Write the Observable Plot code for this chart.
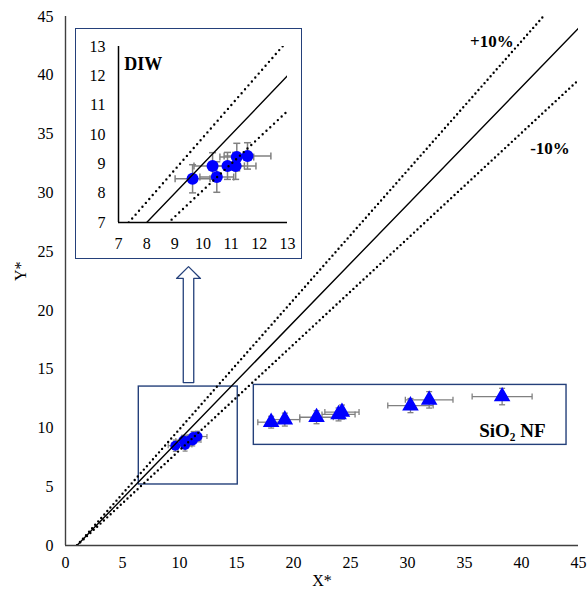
<!DOCTYPE html>
<html>
<head>
<meta charset="utf-8">
<script src="https://cdn.jsdelivr.net/npm/d3@7"></script>
<script src="https://cdn.jsdelivr.net/npm/@observablehq/plot@0.6"></script>
<style>
  body { margin: 0; background: #fff; }
  #wrap { position: relative; width: 587px; height: 599px; }
  #inset { position: absolute; left: 75px; top: 28px; }
</style>
</head>
<body>
<div id="wrap"><div id="main"></div><div id="inset"></div></div>
<script>
// ---- data ----
const xTicks = [0, 5, 10, 15, 20, 25, 30, 35, 40, 45];
const yTicks = [0, 5, 10, 15, 20, 25, 30, 35, 40, 45];
const insetTicks = [7, 8, 9, 10, 11, 12, 13];

// DIW (circles)
const diwX    = [9.63, 10.34, 10.49, 10.87, 11.16, 11.20, 11.58];
const diwY    = [8.49, 8.93, 8.55, 8.93, 8.93, 9.23, 9.27];
const diwXErr = [0.62, 0.66, 0.60, 0.60, 0.72, 0.60, 0.83];
const diwYErr = [0.48, 0.45, 0.52, 0.46, 0.46, 0.47, 0.45];

// SiO2 NF (triangles)
const nfX    = [18.04, 19.24, 22.02, 23.95, 24.25, 30.26, 31.90, 38.30];
const nfY    = [10.49, 10.71, 10.91, 11.15, 11.35, 11.90, 12.39, 12.67];
const nfXErr = [1.17, 1.31, 1.47, 1.45, 1.50, 1.99, 2.09, 2.63];
const nfYErr = [0.50, 0.55, 0.55, 0.55, 0.60, 0.60, 0.70, 0.70];

// reference lines: Y* = k (X* - 1)
const refOffset = 1;
const refFactors = [1, 1.1, 0.9];

// annotations (data units of main chart)
const zoomBox = {x1: 6.43, x2: 15.11, y1: 5.19, y2: 13.52};
const nfBox = {x1: 16.52, x2: 43.95, y1: 8.56, y2: 13.66};
const arrowSpec = {x: 10.79, y1: 13.86, y2: 23.72, shaft: 0.46, head: 1.05, headLen: 1.0};
const labels = [
  {x: 37.4, y: 42.9, text: "+10%", size: 17},
  {x: 42.5, y: 33.8, text: "-10%", size: 17},
  {x: 39.2, y: 9.75, text: "SiO₂ NF", size: 19}
];

const diw = diwX.map((x, i) => ({x, y: diwY[i], xe: diwXErr[i], ye: diwYErr[i]}));
const nf = nfX.map((x, i) => ({x, y: nfY[i], xe: nfXErr[i], ye: nfYErr[i]}));

const FONT = "'Liberation Serif', 'Times New Roman', Times, serif";
const BLUE = "#0000FF", GREY = "#808080", NAVY = "#24407A";

const vbar = {draw(ctx, size) { const h = Math.sqrt(size / Math.PI); ctx.moveTo(0, -h); ctx.lineTo(0, h); }};
const hbar = {draw(ctx, size) { const h = Math.sqrt(size / Math.PI); ctx.moveTo(-h, 0); ctx.lineTo(h, 0); }};

function errorBars(data, cap, sw) {
  const o = {stroke: GREY, strokeWidth: sw};
  return [
    Plot.link(data, {x1: d => d.x - d.xe, x2: d => d.x + d.xe, y1: "y", y2: "y", ...o}),
    Plot.link(data, {x1: "x", x2: "x", y1: d => d.y - d.ye, y2: d => d.y + d.ye, ...o}),
    Plot.dot(data, {x: d => d.x - d.xe, y: "y", symbol: vbar, r: cap, fill: "none", ...o}),
    Plot.dot(data, {x: d => d.x + d.xe, y: "y", symbol: vbar, r: cap, fill: "none", ...o}),
    Plot.dot(data, {x: "x", y: d => d.y - d.ye, symbol: hbar, r: cap, fill: "none", ...o}),
    Plot.dot(data, {x: "x", y: d => d.y + d.ye, symbol: hbar, r: cap, fill: "none", ...o})
  ];
}

function refLines(x0, x1, dash, sw) {
  return refFactors.map(k => Plot.line(
    [x0, x1].map(x => ({x, y: k * (x - refOffset)})),
    {x: "x", y: "y", stroke: "#000", strokeWidth: k === 1 ? 1.4 : sw,
     strokeDasharray: k === 1 ? null : dash, strokeLinecap: "round", clip: true}));
}

const a = arrowSpec;
const arrowPoly = [
  {x: a.x - a.shaft, y: a.y1}, {x: a.x + a.shaft, y: a.y1},
  {x: a.x + a.shaft, y: a.y2 - a.headLen}, {x: a.x + a.head, y: a.y2 - a.headLen},
  {x: a.x, y: a.y2}, {x: a.x - a.head, y: a.y2 - a.headLen},
  {x: a.x - a.shaft, y: a.y2 - a.headLen}, {x: a.x - a.shaft, y: a.y1}
];

const fmt = d => String(d);

const mainPlot = Plot.plot({
  width: 587, height: 599,
  marginLeft: 65, marginRight: 9, marginTop: 16, marginBottom: 54,
  x: {domain: [0, 45]},
  y: {domain: [0, 45]},
  style: {fontFamily: FONT, fontSize: "16px", color: "#000", background: "#fff"},
  marks: [
    Plot.axisX({ticks: xTicks, tickFormat: fmt, tickSize: 0, tickPadding: 11, label: null, fontSize: 16, fontFamily: FONT}),
    Plot.axisY({ticks: yTicks, tickFormat: fmt, tickSize: 0, tickPadding: 12, label: null, fontSize: 16, fontFamily: FONT}),
    Plot.ruleX([0], {stroke: "#404040", strokeWidth: 1.4}),
    Plot.ruleY([0], {stroke: "#404040", strokeWidth: 1.4}),
    Plot.rect([zoomBox], {x1: "x1", x2: "x2", y1: "y1", y2: "y2", fill: "none", stroke: NAVY, strokeWidth: 1.4}),
    Plot.rect([nfBox], {x1: "x1", x2: "x2", y1: "y1", y2: "y2", fill: "#fff", stroke: NAVY, strokeWidth: 1.4}),
    Plot.line(arrowPoly, {x: "x", y: "y", stroke: NAVY, strokeWidth: 1.3, fill: "#fff"}),
    ...errorBars(nf, 3, 1.3),
    ...errorBars(diw, 2.5, 1.2),
    Plot.dot(nf, {x: "x", y: "y", symbol: "triangle", r: 5.2, fill: BLUE, stroke: BLUE}),
    Plot.dot(diw, {x: "x", y: "y", r: 5, fill: BLUE}),
    ...refLines(refOffset, 45, "0,4.6", 2.4),
    ...labels.map(l => Plot.text([l], {x: "x", y: "y", text: "text", fontWeight: "bold", fontSize: l.size, fontFamily: FONT})),
    Plot.text(["X*"], {frameAnchor: "bottom", dy: 40, fontSize: 16, fontFamily: FONT}),
    Plot.text(["Y*"], {frameAnchor: "left", dx: -45, rotate: -90, fontSize: 16, fontFamily: FONT})
  ]
});
document.getElementById("main").appendChild(mainPlot);

const insetPlot = Plot.plot({
  width: 225, height: 229,
  marginLeft: 42, marginRight: 14, marginTop: 17, marginBottom: 36,
  x: {domain: [7, 13]},
  y: {domain: [7, 13]},
  style: {fontFamily: FONT, fontSize: "16px", color: "#000", background: "#fff", border: `1.5px solid ${NAVY}`, display: "block"},
  marks: [
    Plot.axisX({ticks: insetTicks, tickFormat: fmt, tickSize: 0, tickPadding: 15, label: null, fontSize: 16, fontFamily: FONT}),
    Plot.axisY({ticks: insetTicks, tickFormat: fmt, tickSize: 0, tickPadding: 13, label: null, fontSize: 16, fontFamily: FONT}),
    Plot.ruleX([7], {stroke: "#000", strokeWidth: 1.5}),
    Plot.ruleY([7], {stroke: "#000", strokeWidth: 1.5}),
    ...errorBars(diw, 3.5, 1.5),
    Plot.dot(diw, {x: "x", y: "y", r: 6, fill: BLUE}),
    ...refLines(7, 13, "0,5.2", 2.4),
    Plot.text(["DIW"], {x: [7.2], y: [12.4], text: d => d, textAnchor: "start", fontWeight: "bold", fontSize: 18, fontFamily: FONT})
  ]
});
document.getElementById("inset").appendChild(insetPlot);
</script>
</body>
</html>
